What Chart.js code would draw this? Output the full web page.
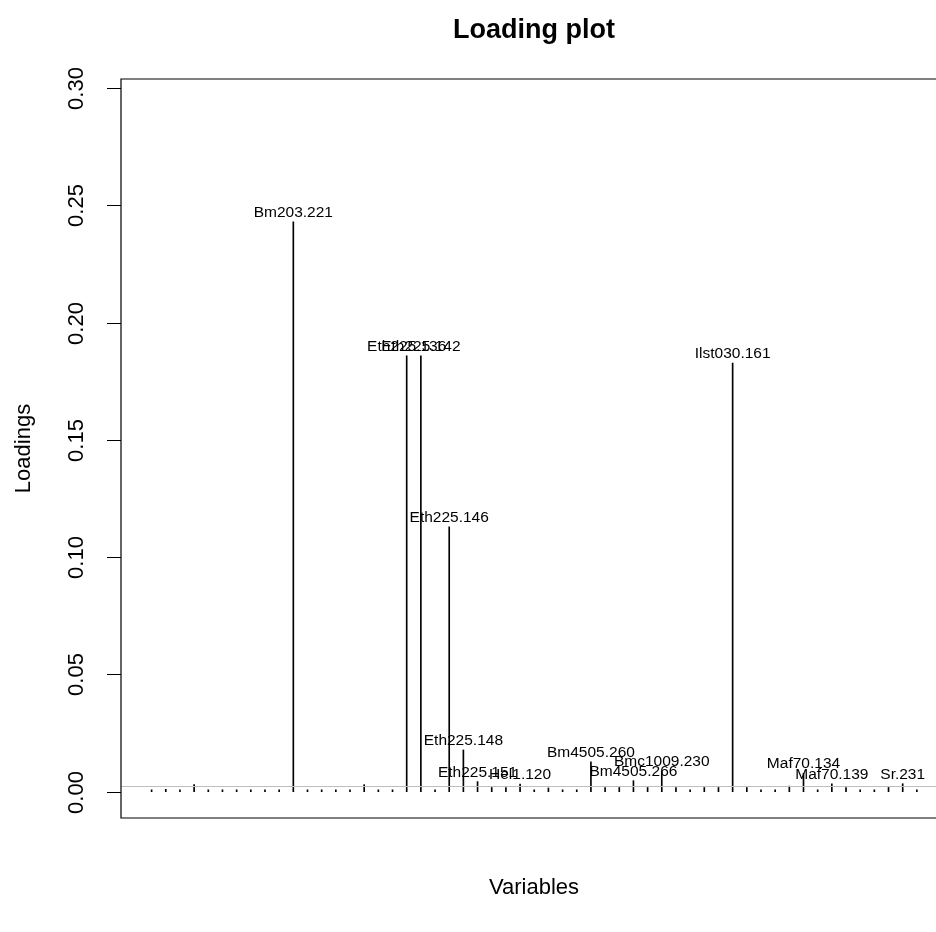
<!DOCTYPE html>
<html lang="en">
<head>
    <meta charset="UTF-8">
    <title>Loading plot</title>
    <script src="https://cdn.jsdelivr.net/npm/chart.js"></script>
    <style>
        html, body {
            margin: 0;
            padding: 0;
            background: #ffffff;
        }
        #wrap {
            width: 936px;
            height: 932px;
        }
    </style>
</head>
<body>
<div id="wrap">
    <canvas id="loadingChart" width="936" height="932"></canvas>
</div>

<script>
    // variable index 1..55, loadings
    const loadings = [
        0.0008, 0.0010, 0.0008, 0.0030, 0.0008, 0.0008, 0.0008, 0.0008, 0.0008, 0.0008,
        0.2429, 0.0008, 0.0008, 0.0008, 0.0008, 0.0030, 0.0008, 0.0008, 0.1858, 0.1858,
        0.0008, 0.1129, 0.0178, 0.0043, 0.0018, 0.0018, 0.0033, 0.0008, 0.0016, 0.0008,
        0.0008, 0.0127, 0.0018, 0.0018, 0.0047, 0.0018, 0.0087, 0.0018, 0.0008, 0.0018,
        0.0018, 0.1827, 0.0018, 0.0008, 0.0008, 0.0024, 0.0078, 0.0008, 0.0034, 0.0018,
        0.0008, 0.0008, 0.0018, 0.0034, 0.0008
    ];

    // labelled variables (1-based index) and their names
    const labelIdx = [11, 19, 20, 22, 23, 24, 27, 32, 35, 37, 42, 47, 49, 54];
    const labelNames = [
        'Bm203.221', 'Eth225.136', 'Eth225.142', 'Eth225.146', 'Eth225.148',
        'Eth225.151', 'Hel1.120', 'Bm4505.260', 'Bm4505.266', 'Bmc1009.230',
        'Ilst030.161', 'Maf70.134', 'Maf70.139', 'Sr.231'
    ];

    const yTicks = [0, 0.05, 0.10, 0.15, 0.20, 0.25, 0.30];
    const refLine = 0.0025;

    const FONT = '"Liberation Sans", Arial, Helvetica, sans-serif';

    const points = loadings.map((v, i) => ({ x: i + 1, y: v }));

    // draws the R style frame, axis, texts and labels
    const rPlot = {
        id: 'rPlot',
        afterDatasetsDraw(chart) {
            const ctx = chart.ctx;
            const area = chart.chartArea;
            const xs = chart.scales.x;
            const ys = chart.scales.y;

            ctx.save();

            // grey reference line
            const yr = Math.round(ys.getPixelForValue(refLine)) + 0.5;
            ctx.strokeStyle = '#bebebe';
            ctx.lineWidth = 1;
            ctx.beginPath();
            ctx.moveTo(area.left, yr);
            ctx.lineTo(area.right, yr);
            ctx.stroke();

            // box (right side falls outside the picture)
            ctx.strokeStyle = '#000000';
            ctx.lineWidth = 1.2;
            ctx.beginPath();
            ctx.moveTo(area.right + 2, area.top);
            ctx.lineTo(area.left, area.top);
            ctx.lineTo(area.left, area.bottom);
            ctx.lineTo(area.right + 2, area.bottom);
            ctx.stroke();

            // y ticks
            ctx.lineWidth = 1;
            ctx.fillStyle = '#000000';
            ctx.font = '22px ' + FONT;
            ctx.textAlign = 'center';
            ctx.textBaseline = 'middle';
            yTicks.forEach(t => {
                const py = Math.round(ys.getPixelForValue(t)) + 0.5;
                ctx.beginPath();
                ctx.moveTo(area.left - 14, py);
                ctx.lineTo(area.left, py);
                ctx.stroke();
                ctx.save();
                ctx.translate(area.left - 44, py);
                ctx.rotate(-Math.PI / 2);
                ctx.fillText(t.toFixed(2), 0, 0);
                ctx.restore();
            });

            // point labels
            ctx.font = '15.5px ' + FONT;
            ctx.textBaseline = 'alphabetic';
            labelIdx.forEach((idx, k) => {
                const px = xs.getPixelForValue(idx);
                const py = ys.getPixelForValue(loadings[idx - 1]);
                ctx.fillText(labelNames[k], px, py - 5);
            });

            // titles
            const midX = (area.left + 947) / 2;
            ctx.font = 'bold 27px ' + FONT;
            ctx.textBaseline = 'middle';
            ctx.fillText('Loading plot', midX, 31);

            ctx.font = '22px ' + FONT;
            ctx.fillText('Variables', midX, 888);

            ctx.save();
            ctx.translate(24, (area.top + area.bottom) / 2);
            ctx.rotate(-Math.PI / 2);
            ctx.fillText('Loadings', 0, 0);
            ctx.restore();

            ctx.restore();
        }
    };

    const ctx = document.getElementById('loadingChart').getContext('2d');
    const loadingChart = new Chart(ctx, {
        type: 'bar',
        data: {
            datasets: [
                {
                    data: points,
                    backgroundColor: '#000000',
                    borderWidth: 0,
                    barThickness: 1,
                    grouped: false
                }
            ]
        },
        options: {
            responsive: false,
            animation: false,
            devicePixelRatio: 1,
            layout: {
                padding: { left: 121, top: 79, right: 0, bottom: 114 }
            },
            plugins: {
                legend: { display: false },
                tooltip: { enabled: false },
                title: { display: false }
            },
            scales: {
                x: {
                    type: 'linear',
                    min: -1.16,
                    max: 56.35,
                    offset: false,
                    display: false
                },
                y: {
                    min: -0.01121,
                    max: 0.30384,
                    display: false
                }
            }
        },
        plugins: [rPlot]
    });
</script>
</body>
</html>
